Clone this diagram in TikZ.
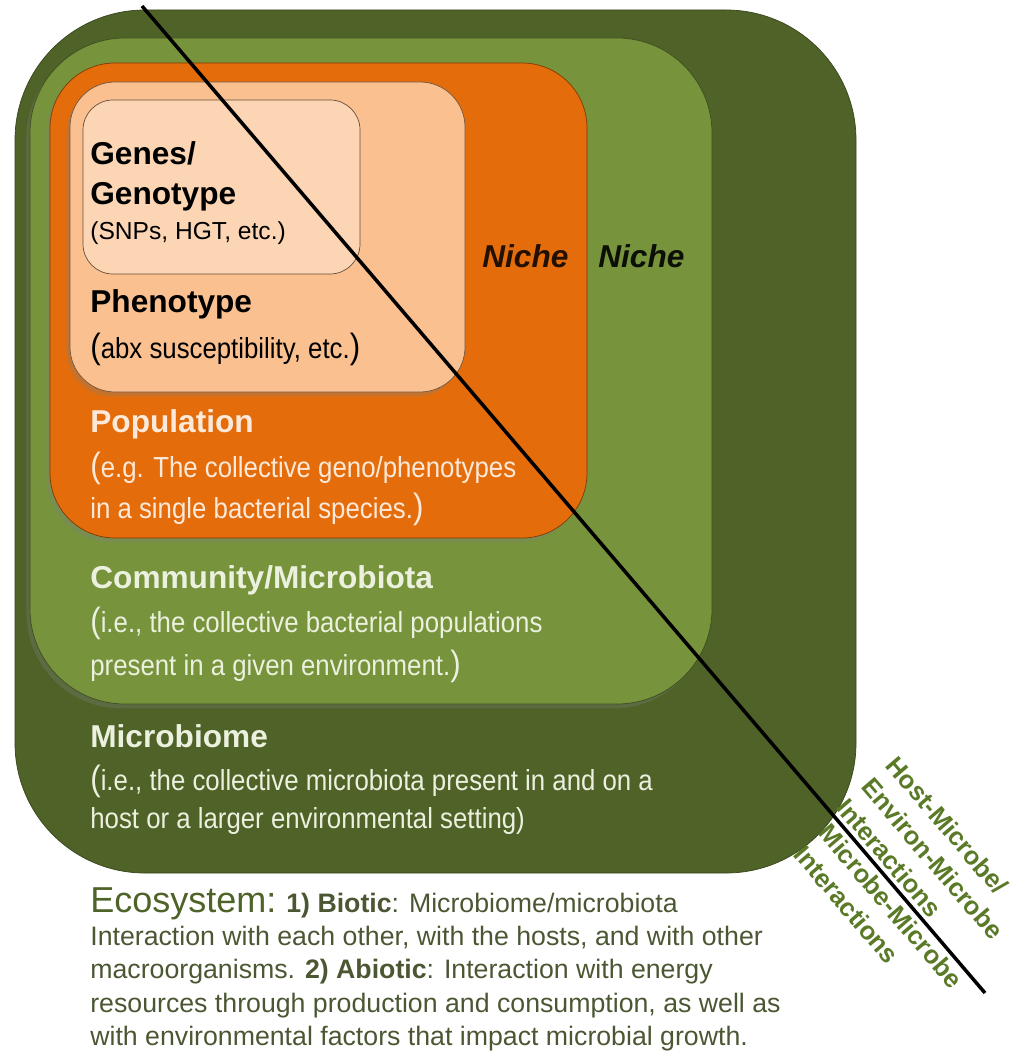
\documentclass[tikz,border=0pt]{standalone}
\usepackage{fontspec}
\setmainfont{Liberation Sans}
\newfontfamily\stretto[FakeStretch=0.89]{Liberation Sans}
\usetikzlibrary{shadows}

\definecolor{verdescuro}{HTML}{4F6228}
\definecolor{verdechiaro}{HTML}{77933C}
\definecolor{arancio}{HTML}{E46C0A}
\definecolor{pesca}{HTML}{FAC090}
\definecolor{pescachiaro}{HTML}{FCD5B5}
\definecolor{testoverde}{HTML}{EBF1DE}
\definecolor{testorosa}{HTML}{FDE9D9}
\definecolor{testoeco}{HTML}{4B5733}
\definecolor{etichetta}{HTML}{5A7A28}

\tikzset{
  titolo/.style={anchor=base west, inner sep=0pt, font=\fontsize{18}{21}\selectfont\bfseries},
  corpo/.style={anchor=base west, inner sep=0pt, font=\stretto\fontsize{16.5}{20}\selectfont},
  nicchia/.style={anchor=base west, inner sep=0pt, font=\fontsize{18}{21}\selectfont\bfseries\itshape},
  riga/.style={anchor=base west, inner sep=0pt, text=testoeco, font=\fontsize{15.2}{18}\selectfont},
  interazioni/.style={align=left, inner sep=1pt, text=etichetta, font=\fontsize{14.6}{18.6}\selectfont\bfseries},
  ombra/.style={drop shadow={shadow xshift=-2pt, shadow yshift=-2.5pt, opacity=0.3}}
}

% parentesi grandi come nell'originale
\newcommand{\aperta}{{\fontsize{20}{20}\selectfont(}}
\newcommand{\chiusa}{{\fontsize{20}{20}\selectfont)}}

\begin{document}
\begin{tikzpicture}[x=0.02cm, y=-0.02cm]

    \useasboundingbox (0,0) rectangle (1015,1057);

    % -- Scatole annidate --
    \filldraw[fill=verdescuro, draw=verdescuro!70!black, rounded corners=2.6cm] (15,10) rectangle (856,873);
    \filldraw[ombra, fill=verdechiaro, draw=verdescuro!80!black, rounded corners=1.9cm] (30,38) rectangle (712,704);
    \filldraw[ombra, fill=arancio, draw=arancio!55!black, rounded corners=1.3cm] (50,63) rectangle (587,538);
    \filldraw[ombra, fill=pesca, draw=pesca!45!black, rounded corners=0.9cm] (70,82) rectangle (465,392);
    \filldraw[fill=pescachiaro, draw=pesca!40!black, rounded corners=0.6cm] (83,100) rectangle (360,274);

    % -- Linea diagonale --
    \coordinate (inizio) at (142,6);
    \coordinate (fine) at (985,993);
    \draw[line width=2pt] (inizio) -- (fine);

    % -- Geni e fenotipo --
    \node[titolo] (geni) at (90,165) {Genes/};
    \node[titolo] (genotipo) at (90,205) {Genotype};
    \node[anchor=base west, inner sep=0pt, font=\fontsize{14}{16}\selectfont] (snp) at (90,240) {(SNPs, HGT, etc.)};
    \node[titolo] (fenotipo) at (90,313) {Phenotype};
    \node[corpo] (abx) at (90,358) {\aperta abx susceptibility, etc.\chiusa};

    % -- Nicchie --
    \node[nicchia, text=black!85!arancio] (nicchia1) at (482,268) {Niche};
    \node[nicchia, text=black!85!verdescuro] (nicchia2) at (598,268) {Niche};

    % -- Popolazione --
    \node[titolo, text=testorosa] (popolazione) at (90,432) {Population};
    \node[corpo, text=testorosa] (pop1) at (90,477) {\aperta e.g. The collective geno/phenotypes};
    \node[corpo, text=testorosa] (pop2) at (90,518) {in a single bacterial species.\chiusa};

    % -- Comunita --
    \node[titolo, text=testoverde] (comunita) at (90,588) {Community/Microbiota};
    \node[corpo, text=testoverde] (com1) at (90,632) {\aperta i.e., the collective bacterial populations};
    \node[corpo, text=testoverde] (com2) at (90,675) {present in a given environment.\chiusa};

    % -- Microbioma --
    \node[titolo, text=testoverde] (microbioma) at (90,747) {Microbiome};
    \node[corpo, text=testoverde] (mic1) at (90,790) {\aperta i.e., the collective microbiota present in and on a};
    \node[corpo, text=testoverde] (mic2) at (90,828) {host or a larger environmental setting)};

    % -- Ecosistema --
    \node[riga] (eco1) at (90,912) {{\fontsize{20.5}{24}\selectfont\textcolor{verdescuro}{Ecosystem:}} \textbf{1) Biotic}: Microbiome/microbiota};
    \node[riga] (eco2) at (90,945) {Interaction with each other, with the hosts, and with other};
    \node[riga] (eco3) at (90,978) {macroorganisms. \textbf{2) Abiotic}: Interaction with energy};
    \node[riga] (eco4) at (90,1012) {resources through production and consumption, as well as};
    \node[riga] (eco5) at (90,1045) {with environmental factors that impact microbial growth.};

    % -- Etichette lungo la linea --
    \path (inizio) -- (fine)
        node[interazioni, pos=0.895, sloped, above=2pt] (ospite) {Host-Microbe/\\Environ-Microbe\\Interactions}
        node[interazioni, pos=0.902, sloped, below=2pt] (microbi) {Microbe-Microbe\\Interactions};

\end{tikzpicture}
\end{document}
